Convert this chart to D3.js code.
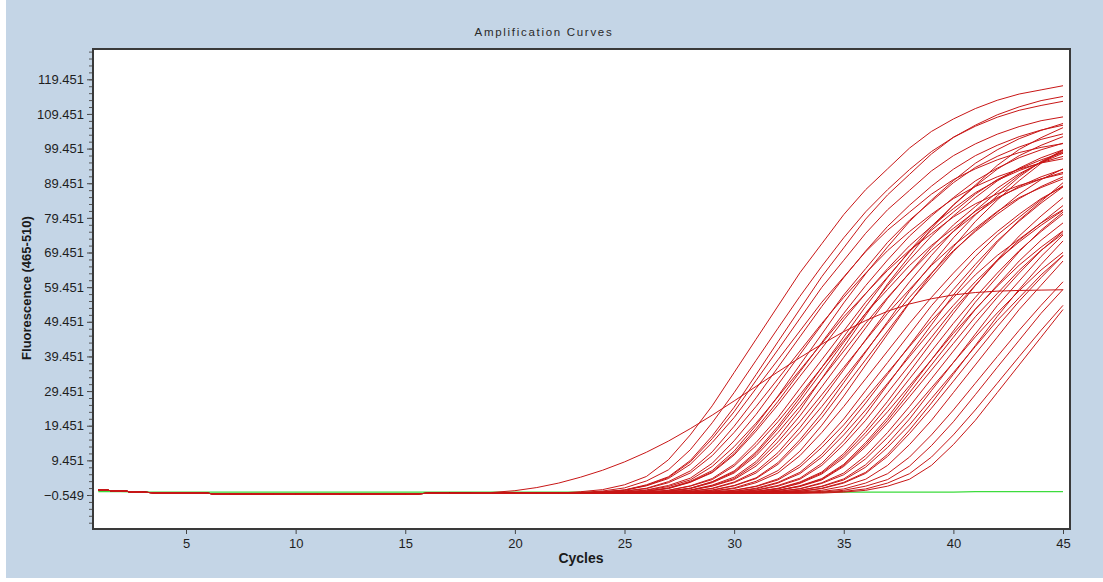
<!DOCTYPE html>
<html>
<head>
<meta charset="utf-8">
<script src="https://cdn.jsdelivr.net/npm/d3@7"></script>
<style>
  html, body { margin: 0; padding: 0; background: #ffffff; }
  svg { display: block; }
</style>
</head>
<body>
<svg id="chart" width="1103" height="582"></svg>
<script>
// ---- data ----------------------------------------------------------------
const cycles = d3.range(1, 46);
const xTickValues = [5, 10, 15, 20, 25, 30, 35, 40, 45];
const yTickValues = [-0.549, 9.451, 19.451, 29.451, 39.451, 49.451, 59.451,
                     69.451, 79.451, 89.451, 99.451, 109.451, 119.451];

// common background level of all wells before amplification (cycles 1..45)
const baseline = [0.9, 0.6, 0.2, 0.1, 0.0, -0.1, -0.3, -0.3, -0.3, -0.2,
                  -0.2, -0.2, -0.2, -0.2, -0.2, -0.1, -0.1, -0.1, 0.0, 0.0,
                  0.0, 0.0, 0.0, 0.0, 0.0, 0.0, 0.0, 0.0, 0.0, 0.0,
                  0.0, 0.0, 0.0, 0.0, 0.0, 0.0, 0.0, 0.0, 0.0, 0.0,
                  0.0, 0.0, 0.0, 0.0, 0.0];

// negative control well (cycles 1..45)
const negativeControl = [0.4, 0.4, 0.3, 0.3, 0.3, 0.3, 0.3, 0.3, 0.3, 0.3,
                         0.3, 0.3, 0.3, 0.3, 0.3, 0.3, 0.3, 0.3, 0.3, 0.3,
                         0.3, 0.3, 0.3, 0.3, 0.3, 0.3, 0.3, 0.3, 0.3, 0.3,
                         0.3, 0.3, 0.3, 0.3, 0.3, 0.3, 0.3, 0.3, 0.3, 0.3,
                         0.4, 0.4, 0.4, 0.4, 0.4];

// sample wells: first cycle that leaves the baseline, then fluorescence per cycle up to 45
const sampleStart = [23, 23, 24, 24, 24, 24, 25, 25, 25, 25,
                     26, 26, 26, 26, 27, 27, 27, 27, 28, 28,
                     28, 29, 29, 29, 30, 30, 30, 30, 31, 31,
                     31, 31, 32, 32, 32, 33, 33, 34, 34, 35,
                     19,
                     24, 25, 26, 27, 29, 30, 31, 32, 28];
const sampleValues = [
  [0.4,1.0,2.4,4.8,9.6,16.8,25.2,34.8,44.4,54.0,63.6,72.0,80.4,87.6,93.6,99.6,104.4,108.0,111.0,113.4,115.2,116.4,117.6],
  [0.2,0.6,1.5,3.5,6.7,12.5,20.3,29.0,38.3,47.6,56.8,65.5,73.7,81.2,87.6,93.4,98.6,102.7,105.9,108.5,110.5,111.9,113.1],
  [0.3,0.9,2.2,4.5,9.0,15.7,23.5,32.5,41.4,50.4,59.4,67.2,75.0,81.8,87.4,93.0,97.4,100.8,103.6,105.8,107.5,108.6],
  [0.3,0.8,2.1,4.2,8.3,14.6,21.8,30.2,38.5,46.8,55.1,62.4,69.7,75.9,81.1,86.3,90.5,93.6,96.2,98.3,99.8,100.9],
  [0.2,0.6,1.4,3.3,6.4,11.9,19.3,27.5,36.3,45.1,53.9,62.2,69.9,77.0,83.1,88.6,93.5,97.4,100.4,102.9,104.8,106.2],
  [0.2,0.5,1.3,3.0,5.8,10.8,17.5,25.0,33.0,41.0,49.0,56.5,63.5,70.0,75.5,80.5,85.0,88.5,91.3,93.5,95.3,96.5],
  [0.3,0.9,2.2,4.3,8.6,15.1,22.7,31.3,40.0,48.6,57.2,64.8,72.4,78.8,84.2,89.6,94.0,97.2,99.9,102.1,103.7],
  [0.3,0.8,1.9,3.8,7.7,13.4,20.2,27.8,35.5,43.2,50.9,57.6,64.3,70.1,74.9,79.7,83.5,86.4,88.8,90.7,92.2],
  [0.2,0.5,1.4,3.2,6.1,11.4,18.6,26.5,35.0,43.5,51.9,59.9,67.3,74.2,80.0,85.3,90.1,93.8,96.8,99.1,101.0],
  [0.2,0.6,1.5,3.4,6.5,12.1,19.6,28.0,37.0,45.9,54.9,63.3,71.1,78.4,84.6,90.2,95.2,99.1,102.3,104.7,106.7],
  [0.3,0.8,2.1,4.2,8.3,14.6,21.8,30.2,38.5,46.8,55.1,62.4,69.7,75.9,81.1,86.3,90.5,93.6,96.2,98.3],
  [0.3,0.8,2.0,3.9,7.8,13.7,20.6,28.4,36.3,44.1,51.9,58.8,65.7,71.5,76.4,81.3,85.3,88.2,90.7,92.6],
  [0.2,0.6,1.4,3.3,6.4,11.9,19.3,27.5,36.3,45.1,53.9,62.2,69.9,77.0,83.1,88.6,93.5,97.4,100.4,102.9],
  [0.2,0.5,1.3,3.0,5.8,10.8,17.5,25.0,33.0,41.0,49.0,56.5,63.5,70.0,75.5,80.5,85.0,88.5,91.3,93.5],
  [0.3,0.8,2.1,4.2,8.5,14.8,22.3,30.7,39.2,47.7,56.2,63.6,71.0,77.4,82.7,88.0,92.2,95.4,98.1],
  [0.3,0.9,2.3,4.6,9.1,16.0,23.9,33.1,42.2,51.3,60.4,68.4,76.4,83.2,88.9,94.6,99.2,102.6,105.5],
  [0.2,0.5,1.4,3.2,6.3,11.7,18.9,27.0,35.6,44.3,52.9,61.0,68.6,75.6,81.5,86.9,91.8,95.6,98.6],
  [0.2,0.5,1.3,3.0,5.8,10.8,17.5,25.0,33.0,41.0,49.0,56.5,63.5,70.0,75.5,80.5,85.0,88.5,91.3],
  [0.3,0.9,2.2,4.4,8.8,15.4,23.1,31.9,40.7,49.5,58.3,66.0,73.7,80.3,85.8,91.3,95.7,99.0],
  [0.3,0.8,2.1,4.2,8.3,14.6,21.8,30.2,38.5,46.8,55.1,62.4,69.7,75.9,81.1,86.3,90.5,93.6],
  [0.2,0.5,1.3,3.0,5.8,10.8,17.5,25.0,33.0,41.0,49.0,56.5,63.5,70.0,75.5,80.5,85.0,88.5],
  [0.3,0.8,2.0,4.1,8.2,14.3,21.4,29.6,37.7,45.9,54.1,61.2,68.3,74.5,79.6,84.7,88.7],
  [0.3,0.8,1.9,3.8,7.5,13.2,19.7,27.3,34.8,42.3,49.8,56.4,63.0,68.6,73.3,78.0,81.8],
  [0.2,0.5,1.4,3.1,6.0,11.2,18.2,26.0,34.3,42.6,51.0,58.8,66.0,72.8,78.5,83.7,88.4],
  [0.3,0.8,2.0,4.0,8.0,14.0,21.0,29.0,37.0,45.0,53.0,60.0,67.0,73.0,78.0,83.0],
  [0.3,0.9,2.2,4.3,8.6,15.1,22.7,31.3,40.0,48.6,57.2,64.8,72.4,78.8,84.2,89.6],
  [0.2,0.5,1.3,3.0,5.8,10.8,17.5,25.0,33.0,41.0,49.0,56.5,63.5,70.0,75.5,80.5],
  [0.2,0.5,1.2,2.8,5.5,10.2,16.5,23.5,31.0,38.5,46.1,53.1,59.7,65.8,71.0,75.7],
  [0.3,0.8,2.1,4.2,8.3,14.6,21.8,30.2,38.5,46.8,55.1,62.4,69.7,75.9,81.1],
  [0.3,0.8,1.9,3.8,7.7,13.4,20.2,27.8,35.5,43.2,50.9,57.6,64.3,70.1,74.9],
  [0.2,0.5,1.3,3.0,5.8,10.8,17.5,25.0,33.0,41.0,49.0,56.5,63.5,70.0,75.5],
  [0.2,0.5,1.2,2.8,5.3,9.9,16.1,23.0,30.4,37.7,45.1,52.0,58.4,64.4,69.5],
  [0.3,0.8,2.0,4.1,8.2,14.3,21.4,29.6,37.7,45.9,54.1,61.2,68.3,74.5],
  [0.3,0.8,1.9,3.8,7.5,13.2,19.7,27.3,34.8,42.3,49.8,56.4,63.0,68.6],
  [0.2,0.5,1.3,2.9,5.7,10.6,17.2,24.5,32.3,40.2,48.0,55.4,62.2,68.6],
  [0.3,0.8,2.0,4.0,8.0,14.0,21.0,29.0,37.0,45.0,53.0,60.0,67.0],
  [0.2,0.5,1.2,2.9,5.6,10.4,16.8,24.0,31.7,39.4,47.0,54.2,61.0],
  [0.3,0.8,2.0,3.9,7.8,13.7,20.6,28.4,36.3,44.1,51.9,58.8],
  [0.2,0.5,1.2,2.9,5.6,10.4,16.8,24.0,31.7,39.4,47.0,54.2],
  [0.3,0.8,2.0,4.0,8.0,14.0,21.0,29.0,37.0,45.0,53.0],
  [0.2,0.7,1.6,2.9,4.6,6.6,9.0,11.8,15.0,18.6,22.5,26.6,30.8,35.0,39.1,43.0,46.6,49.8,52.5,54.6,56.1,57.2,57.9,58.3,58.5,58.6,58.7],
  [0.4,0.9,2.4,4.7,9.4,16.5,24.8,34.2,43.7,53.1,62.5,70.8,79.1,86.1,92.0,97.9,102.7,106.2,109.2,111.5,113.3,114.5],
  [0.2,0.5,1.3,3.1,5.9,11.0,17.9,25.5,33.7,41.8,50.0,57.6,64.8,71.4,77.0,82.1,86.7,90.3,93.1,95.4,97.2],
  [0.2,0.5,1.4,3.2,6.1,11.4,18.6,26.5,35.0,43.5,51.9,59.9,67.3,74.2,80.0,85.3,90.1,93.8,96.8,99.1],
  [0.3,0.8,2.0,3.9,7.8,13.7,20.6,28.4,36.3,44.1,51.9,58.8,65.7,71.5,76.4,81.3,85.3,88.2,90.7],
  [0.2,0.5,1.2,2.9,5.6,10.4,16.8,24.0,31.7,39.4,47.0,54.2,61.0,67.2,72.5,77.3,81.6],
  [0.2,0.5,1.4,3.2,6.1,11.4,18.6,26.5,35.0,43.5,51.9,59.9,67.3,74.2,80.0,85.3],
  [0.3,0.8,2.0,4.0,8.0,14.0,21.0,29.0,37.0,45.0,53.0,60.0,67.0,73.0,78.0],
  [0.2,0.5,1.4,3.1,6.0,11.2,18.2,26.0,34.3,42.6,51.0,58.8,66.0,72.8],
  [0.2,0.6,1.5,3.4,6.5,12.1,19.6,28.0,37.0,45.9,54.9,63.3,71.1,78.4,84.6,90.2,95.2,99.1]
];

// ---- layout --------------------------------------------------------------
const W = 1103, H = 582;
const plot = { left: 93, top: 49, right: 1070, bottom: 529 };
const svg = d3.select("#chart");

const x = d3.scaleLinear().domain([0.758, 45.319]).range([plot.left, plot.right]);
const y = d3.scaleLinear().domain([-10.364, 128.2]).range([plot.bottom, plot.top]);

// window background
svg.append("rect").attr("x", 6).attr("y", 0).attr("width", W - 6).attr("height", 578)
  .attr("fill", "#c4d5e6");

// plot area
svg.append("rect")
  .attr("x", plot.left).attr("y", plot.top)
  .attr("width", plot.right - plot.left).attr("height", plot.bottom - plot.top)
  .attr("fill", "#ffffff");

svg.append("clipPath").attr("id", "plot-clip")
  .append("rect")
  .attr("x", plot.left).attr("y", plot.top)
  .attr("width", plot.right - plot.left).attr("height", plot.bottom - plot.top);

const line = d3.line().x(d => x(d[0])).y(d => y(d[1]));
const curves = svg.append("g").attr("clip-path", "url(#plot-clip)");

// negative control
curves.append("path")
  .datum(cycles.map((c, i) => [c, negativeControl[i]]))
  .attr("d", line)
  .attr("fill", "none")
  .attr("stroke", "#3ddc3d")
  .attr("stroke-width", 1.2);

// sample wells
const sampleSeries = sampleValues.map((vals, s) =>
  cycles.map((c, i) => [c, c < sampleStart[s] ? baseline[i] : vals[c - sampleStart[s]]]));

curves.selectAll("path.sample")
  .data(sampleSeries)
  .join("path")
  .attr("class", "sample")
  .attr("d", line)
  .attr("fill", "none")
  .attr("stroke", "#c81616")
  .attr("stroke-width", 1);

// frame
svg.append("rect")
  .attr("x", plot.left).attr("y", plot.top)
  .attr("width", plot.right - plot.left).attr("height", plot.bottom - plot.top)
  .attr("fill", "none")
  .attr("stroke", "#3a3a3a")
  .attr("stroke-width", 2);

// ---- axes ----------------------------------------------------------------
const tickFont = "'Liberation Sans', Arial, sans-serif";
const fmt = d3.format(".3f");

const yAxis = svg.append("g")
  .attr("transform", `translate(${plot.left - 1},0)`)
  .call(d3.axisLeft(y).tickValues(yTickValues).tickFormat(fmt).tickSize(5).tickPadding(3));

const minorY = d3.range(-4, 65).map(j => -0.549 + 2 * j)
  .filter(v => v > y.domain()[0] && v < y.domain()[1]);
svg.append("g")
  .attr("transform", `translate(${plot.left - 1},0)`)
  .call(d3.axisLeft(y).tickValues(minorY).tickFormat("").tickSize(3))
  .call(g => g.select(".domain").remove())
  .selectAll("line").attr("stroke", "#555");

const xAxis = svg.append("g")
  .attr("transform", `translate(0,${plot.bottom + 1})`)
  .call(d3.axisBottom(x).tickValues(xTickValues).tickFormat(d3.format("d")).tickSize(4).tickPadding(5));

[yAxis, xAxis].forEach(g => {
  g.select(".domain").remove();
  g.selectAll("line").attr("stroke", "#444");
  g.selectAll("text")
    .attr("fill", "#1e1e1e")
    .style("font-family", tickFont)
    .style("font-size", "13px");
});

// ---- titles --------------------------------------------------------------
svg.append("text")
  .attr("x", 544).attr("y", 36)
  .attr("text-anchor", "middle")
  .style("font-family", tickFont)
  .style("font-size", "11.5px")
  .style("letter-spacing", "1.7px")
  .attr("fill", "#2a2a2a")
  .text("Amplification Curves");

svg.append("text")
  .attr("x", 581).attr("y", 563)
  .attr("text-anchor", "middle")
  .style("font-family", tickFont)
  .style("font-size", "14px")
  .style("font-weight", "bold")
  .attr("fill", "#1a1a1a")
  .text("Cycles");

svg.append("text")
  .attr("transform", "translate(31,288) rotate(-90)")
  .attr("text-anchor", "middle")
  .style("font-family", tickFont)
  .style("font-size", "13px")
  .style("font-weight", "bold")
  .attr("fill", "#1a1a1a")
  .text("Fluorescence (465-510)");
</script>
</body>
</html>
